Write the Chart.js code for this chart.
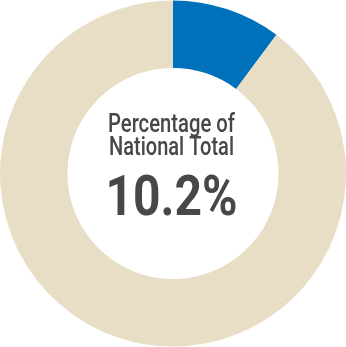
<!DOCTYPE html>
<html>
<head>
<meta charset="utf-8">
<script src="https://cdn.jsdelivr.net/npm/chart.js@4"></script>
<style>
  html, body { margin: 0; padding: 0; background: #fff; }
  #wrap { width: 346px; height: 347px; }
</style>
</head>
<body>
<div id="wrap"><canvas id="myChart" width="346" height="347"></canvas></div>
<script>
const labels = ['State', 'Rest of nation'];
const shares = [10.2, 89.8];
const colors = ['#0072bc', '#e8dec6'];
const titleLines = ['Percentage of', 'National Total'];
const bigText = shares[0].toFixed(1) + '%';

const FONT = 'Roboto, "DejaVu Sans Condensed", sans-serif';

// draw one line squeezed to a given width, like a condensed face
function narrowText(c, text, cx, baseline, font, width) {
  c.font = font;
  const w = c.measureText(text).width;
  const sx = width / w;
  c.save();
  c.translate(cx, baseline);
  c.scale(sx, 1);
  c.fillText(text, 0, 0);
  c.restore();
}

const centerText = {
  id: 'centerText',
  afterDraw(chart) {
    const c = chart.ctx;
    const arc = chart.getDatasetMeta(0).data[0];
    const x = arc.x - 1.5, y = arc.y;
    c.save();
    c.fillStyle = '#474747';
    c.textAlign = 'center';
    c.textBaseline = 'alphabetic';
    narrowText(c, titleLines[0], x, y - 41.5, '500 26px ' + FONT, 127);
    narrowText(c, titleLines[1], x, y - 18.5, '500 26px ' + FONT, 125);
    narrowText(c, bigText, x, y + 41.5, '700 56px ' + FONT, 132);
    c.restore();
  }
};

const ctx = document.getElementById('myChart');
new Chart(ctx, {
  type: 'doughnut',
  data: {
    labels: labels,
    datasets: [{
      data: shares,
      backgroundColor: colors,
      borderWidth: 0
    }]
  },
  options: {
    responsive: false,
    animation: false,
    cutout: '61%',
    layout: { padding: 0 },
    plugins: {
      legend: { display: false },
      tooltip: { enabled: false }
    }
  },
  plugins: [centerText]
});
</script>
</body>
</html>
